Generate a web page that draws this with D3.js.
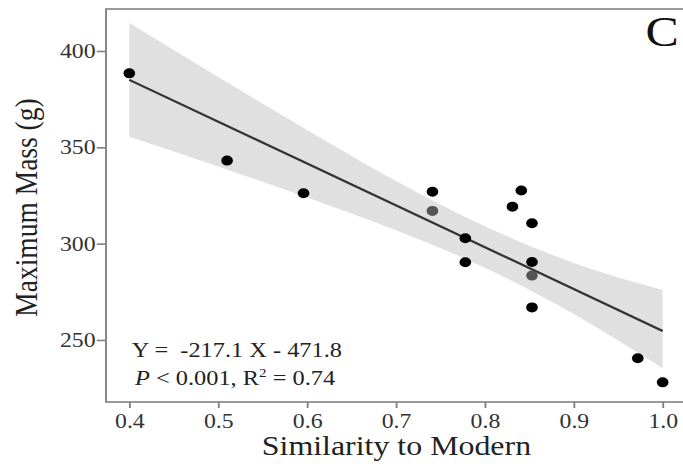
<!DOCTYPE html>
<html>
<head>
<meta charset="utf-8">
<script src="https://cdn.jsdelivr.net/npm/d3@7"></script>
<style>
  body { margin: 0; background: #fff; }
  svg { display: block; }
  text { font-family: "Liberation Serif", "Times New Roman", serif; }
</style>
</head>
<body>
<div id="chart"></div>
<script>
// data
const similarity = [0.40, 0.51, 0.596, 0.741, 0.741, 0.778, 0.778, 0.831, 0.841, 0.853, 0.853, 0.853, 0.853, 0.972, 1.00];
const maxMass    = [388.4, 343.1, 326.2, 326.9, 317.0, 302.8, 290.3, 319.2, 327.6, 310.6, 290.5, 283.4, 266.9, 240.5, 228.0];
const faded      = [false, false, false, false, true, false, false, false, false, false, false, true, false, false, false];

// fitted line and 95% band
const fitX = [0.4, 1.0];
const fitY = [385.0, 254.7];
const bandX  = [0.4, 0.5, 0.6, 0.7, 0.8, 0.9, 1.0];
const bandLo = [355.5, 340.0, 324.0, 307.0, 287.5, 263.5, 235.3];
const bandHi = [414.5, 386.5, 359.0, 332.5, 309.0, 290.0, 276.0];

const xTicks = [0.4, 0.5, 0.6, 0.7, 0.8, 0.9, 1.0];
const yTicks = [250, 300, 350, 400];

// the picture is stretched horizontally, so draw in a narrower viewBox
const SX = 1.16;
const W = 683, H = 464;
const VW = W / SX;

const margin = {top: 9, left: 91.4, bottom: 402, right: 600};

const svg = d3.select("#chart").append("svg")
  .attr("width", W)
  .attr("height", H)
  .attr("viewBox", `0 0 ${VW} ${H}`)
  .attr("preserveAspectRatio", "none");

const x = d3.scaleLinear().domain([0.3738, 1.0375]).range([margin.left, margin.right]);
const y = d3.scaleLinear().domain([217.8, 421.8]).range([margin.bottom, margin.top]);

// confidence band
const band = bandX.map((d, i) => ({x: d, lo: bandLo[i], hi: bandHi[i]}));
svg.append("path")
  .datum(band)
  .attr("fill", "#e0e0e0")
  .attr("d", d3.area()
    .x(d => x(d.x))
    .y0(d => y(d.lo))
    .y1(d => y(d.hi))
    .curve(d3.curveMonotoneX));

// regression line
svg.append("path")
  .datum(fitX.map((d, i) => [d, fitY[i]]))
  .attr("fill", "none")
  .attr("stroke", "#333")
  .attr("stroke-width", 2.2)
  .attr("d", d3.line().x(d => x(d[0])).y(d => y(d[1])));

// points
svg.selectAll(".pt")
  .data(similarity.map((d, i) => ({x: d, y: maxMass[i], f: faded[i]})))
  .join("circle")
  .attr("class", "pt")
  .attr("cx", d => x(d.x))
  .attr("cy", d => y(d.y))
  .attr("r", 5)
  .attr("fill", d => d.f ? "#555" : "#000");

// frame
svg.append("rect")
  .attr("x", margin.left)
  .attr("y", margin.top)
  .attr("width", margin.right - margin.left)
  .attr("height", margin.bottom - margin.top)
  .attr("fill", "none")
  .attr("stroke", "#808080")
  .attr("stroke-width", 1.6);

// axes
const xAxisG = svg.append("g")
  .attr("transform", `translate(0,${margin.bottom})`)
  .call(d3.axisBottom(x).tickValues(xTicks).tickFormat(d3.format(".1f")).tickSize(6).tickPadding(5));

const yAxisG = svg.append("g")
  .attr("transform", `translate(${margin.left},0)`)
  .call(d3.axisLeft(y).tickValues(yTicks).tickSize(8).tickPadding(1));

[xAxisG, yAxisG].forEach(g => {
  g.select(".domain").remove();
  g.selectAll(".tick line").attr("stroke", "#808080").attr("stroke-width", 1.6);
  g.selectAll(".tick text")
    .attr("fill", "#333")
    .style("font-family", '"Liberation Serif", serif')
    .style("font-size", "20.5px");
});

// axis labels
svg.append("text")
  .attr("x", 341.8)
  .attr("y", 455)
  .attr("text-anchor", "middle")
  .attr("fill", "#222")
  .style("font-size", "27.5px")
  .text("Similarity to Modern");

svg.append("text")
  .attr("transform", "translate(32,207.5) rotate(-90)")
  .attr("text-anchor", "middle")
  .attr("fill", "#222")
  .style("font-size", "27.5px")
  .text("Maximum Mass (g)");

// equation
svg.append("text")
  .attr("x", 113.5)
  .attr("y", 357)
  .attr("fill", "#222")
  .style("font-size", "21px")
  .style("white-space", "pre")
  .text("Y =  -217.1 X - 471.8");

const stat = svg.append("text")
  .attr("x", 116.4)
  .attr("y", 385)
  .attr("fill", "#222")
  .style("font-size", "21px");
stat.append("tspan").style("font-style", "italic").text("P");
stat.append("tspan").text(" < 0.001, R");
stat.append("tspan").attr("dy", -8).style("font-size", "13px").text("2");
stat.append("tspan").attr("dy", 8).text(" = 0.74");

// panel letter
svg.append("text")
  .attr("x", 556.5)
  .attr("y", 46)
  .attr("fill", "#111")
  .style("font-size", "43px")
  .text("C");
</script>
</body>
</html>
